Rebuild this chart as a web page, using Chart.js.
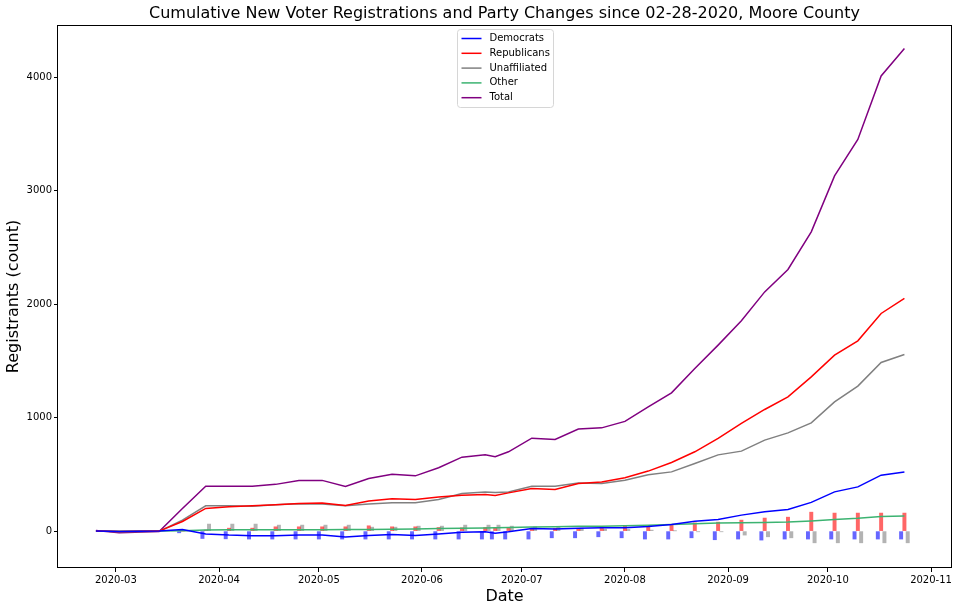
<!DOCTYPE html>
<html>
<head>
<meta charset="utf-8">
<title>Moore County voter registrations</title>
<script src="https://cdn.jsdelivr.net/npm/chart.js@4.4.1/dist/chart.umd.min.js"></script>
<style>
    body { margin: 0; background: #fff; }
    #wrap { width: 960px; height: 611px; }
</style>
</head>
<body>
<div id="wrap"><canvas id="regChart" width="960" height="611"></canvas></div>
<script>
/*== data ==*/
const dates = ['2020-02-24', '2020-03-02', '2020-03-14', '2020-03-21', '2020-03-28', '2020-04-04',
    '2020-04-11', '2020-04-18', '2020-04-25', '2020-05-02', '2020-05-09', '2020-05-16', '2020-05-23',
    '2020-05-30', '2020-06-06', '2020-06-13', '2020-06-20', '2020-06-23', '2020-06-27', '2020-07-04',
    '2020-07-11', '2020-07-18', '2020-07-25', '2020-08-01', '2020-08-08', '2020-08-15', '2020-08-22',
    '2020-08-29', '2020-09-05', '2020-09-12', '2020-09-19', '2020-09-26', '2020-10-03', '2020-10-10',
    '2020-10-17', '2020-10-24'];

const democrats = [2, -3, 0, 15, -25, -35, -40, -40, -35, -35, -52, -38, -30, -38, -25, -10, -6, -18,
    -6, 24, 18, 26, 29, 29, 40, 59, 88, 103, 141, 170, 191, 253, 346, 390, 493, 522];
const republicans = [0, -4, 0, 85, 200, 214, 223, 232, 244, 247, 225, 265, 285, 279, 300, 317, 323, 315,
    337, 376, 367, 420, 432, 470, 529, 605, 699, 817, 949, 1072, 1183, 1359, 1551, 1677, 1918, 2050];
const unaffiliated = [3, -5, -2, 97, 223, 223, 220, 232, 241, 238, 223, 238, 251, 251, 278, 332, 344, 341,
    344, 396, 396, 423, 420, 449, 496, 522, 596, 672, 705, 802, 866, 954, 1139, 1278, 1486, 1557];
const other = [0, -2, 0, 3, 10, 11, 12, 12, 13, 13, 14, 15, 16, 18, 22, 26, 28, 29, 31, 36, 38, 42, 44,
    47, 52, 58, 66, 71, 74, 76, 80, 90, 103, 113, 128, 134];
const total = [5, -14, -3, 200, 396, 396, 396, 412, 447, 447, 394, 464, 502, 487, 558, 652, 672, 655, 699,
    819, 808, 899, 910, 967, 1095, 1219, 1433, 1639, 1853, 2108, 2306, 2637, 3130, 3451, 4011, 4253];

// weekly party changes (bars), from 03-21 on
const changeDates = dates.slice(3);
const demChange = [-15, -65, -68, -70, -70, -70, -70, -70, -70, -70, -70, -70, -70, -70, -70, -70,
    -70, -59, -59, -50, -59, -70, -70, -59, -76, -70, -79, -70, -70, -70, -70, -70, -70];
const repChange = [0, 9, 26, 26, 38, 38, 38, 38, 47, 38, 38, 32, 29, 32, 32, 32, 24, 24, 24, 24, 44,
    38, 59, 73, 79, 97, 115, 123, 167, 159, 159, 159, 159];
const unaChange = [0, 62, 62, 62, 53, 53, 53, 53, 35, 35, 44, 44, 53, 53, 53, 44, 38, 38, 26, 18, 15,
    9, 2, -6, -6, -35, -50, -59, -103, -103, -103, -103, -103];

const monthTicks = ['2020-03-01', '2020-04-01', '2020-05-01', '2020-06-01', '2020-07-01', '2020-08-01',
    '2020-09-01', '2020-10-01', '2020-11-01'];
const countTicks = [0, 1000, 2000, 3000, 4000];

function dayNum(s) {
    const p = s.split('-');
    return Date.UTC(+p[0], +p[1] - 1, +p[2]) / 86400000;
}

function toPoints(ds, vals) {
    return ds.map((d, i) => ({x: dayNum(d), y: vals[i]}));
}

function monthLabel(v) {
    const d = new Date(Math.round(v) * 86400000);
    return d.getUTCFullYear() + '-' + String(d.getUTCMonth() + 1).padStart(2, '0');
}

function lineSet(label, vals, color, order) {
    return {
        type: 'line',
        label: label,
        data: toPoints(dates, vals),
        borderColor: color,
        backgroundColor: color,
        borderWidth: 1.5,
        pointRadius: 0,
        tension: 0,
        order: order
    };
}

function barSet(label, vals, color) {
    return {
        type: 'bar',
        label: label,
        data: toPoints(changeDates, vals),
        backgroundColor: color,
        borderWidth: 0,
        barThickness: 3.3,
        order: 10
    };
}

/*== frame, title and the boxed legend inside the plot ==*/
const mplLook = {
    id: 'mplLook',
    afterDatasetsDraw(chart) {
        const {ctx, chartArea: a} = chart;
        ctx.save();
        ctx.strokeStyle = '#000';
        ctx.lineWidth = 1;
        ctx.strokeRect(Math.round(a.left) - 0.5, Math.round(a.top) + 0.5,
            Math.round(a.right - a.left) + 1, Math.round(a.bottom - a.top) - 1);

        // legend
        const items = chart.data.datasets.filter(d => d.type === 'line');
        const boxW = 96, boxH = 78, rowH = 14.8;
        const bx = Math.round((a.left + a.right) / 2 - boxW / 2) + 0.5;
        const by = a.top + 4.5;
        ctx.beginPath();
        ctx.roundRect(bx, by, boxW, boxH, 3);
        ctx.fillStyle = 'rgba(255,255,255,0.8)';
        ctx.fill();
        ctx.strokeStyle = '#d6d6d6';
        ctx.stroke();
        ctx.font = '10px "DejaVu Sans"';
        ctx.textBaseline = 'middle';
        ctx.textAlign = 'left';
        items.forEach((d, i) => {
            const y = by + 9 + i * rowH;
            ctx.beginPath();
            ctx.moveTo(bx + 4, y);
            ctx.lineTo(bx + 24, y);
            ctx.strokeStyle = d.borderColor;
            ctx.lineWidth = 1.5;
            ctx.stroke();
            ctx.fillStyle = '#000';
            ctx.fillText(d.label, bx + 32, y);
        });

        // title
        ctx.font = '16px "DejaVu Sans"';
        ctx.textAlign = 'center';
        ctx.fillStyle = '#000';
        ctx.fillText('Cumulative New Voter Registrations and Party Changes since 02-28-2020, Moore County',
            (a.left + a.right) / 2, 14);
        ctx.restore();
    }
};

Chart.defaults.font.family = '"DejaVu Sans"';
Chart.defaults.font.size = 10;
Chart.defaults.color = '#000';

const ctx = document.getElementById('regChart').getContext('2d');

const regChart = new Chart(ctx, {
    type: 'line',
    data: {
        datasets: [
            lineSet('Democrats', democrats, '#0000ff', 1),
            lineSet('Republicans', republicans, '#ff0000', 1),
            lineSet('Unaffiliated', unaffiliated, '#808080', 1),
            lineSet('Other', other, '#3cb371', 1),
            lineSet('Total', total, '#800080', 1),
            barSet('Democrat changes', demChange, 'rgba(0,0,255,0.6)'),
            barSet('Republican changes', repChange, 'rgba(255,0,0,0.6)'),
            barSet('Unaffiliated changes', unaChange, 'rgba(128,128,128,0.6)')
        ]
    },
    options: {
        responsive: false,
        animation: false,
        events: [],
        layout: {
            padding: {top: 25, right: 9, left: 0, bottom: 0}
        },
        scales: {
            x: {
                type: 'linear',
                offset: false,
                min: dayNum('2020-03-01') - 17.4,
                max: dayNum('2020-03-01') + 251,
                afterFit: s => { s.height = 43; },
                afterBuildTicks: s => { s.ticks = monthTicks.map(m => ({value: dayNum(m)})); },
                grid: {display: true, offset: false, drawOnChartArea: false, drawTicks: true, tickLength: 4, color: '#000'},
                border: {display: false},
                ticks: {
                    autoSkip: false,
                    maxRotation: 0,
                    padding: 2,
                    callback: v => monthLabel(v)
                },
                title: {
                    display: true,
                    text: 'Date',
                    font: {size: 16},
                    padding: {top: 0, bottom: 5}
                }
            },
            y: {
                type: 'linear',
                min: -325,
                max: 4460,
                afterFit: s => { s.width = 58; },
                afterBuildTicks: s => { s.ticks = countTicks.map(v => ({value: v})); },
                grid: {display: true, offset: false, drawOnChartArea: false, drawTicks: true, tickLength: 4, color: '#000'},
                border: {display: false},
                ticks: {
                    padding: 2,
                    callback: v => String(v)
                },
                title: {
                    display: true,
                    text: 'Registrants (count)',
                    font: {size: 16},
                    padding: {top: 4, bottom: 0}
                }
            }
        },
        plugins: {
            legend: {display: false},
            title: {display: false},
            tooltip: {enabled: false}
        }
    },
    plugins: [mplLook]
});
</script>
</body>
</html>
